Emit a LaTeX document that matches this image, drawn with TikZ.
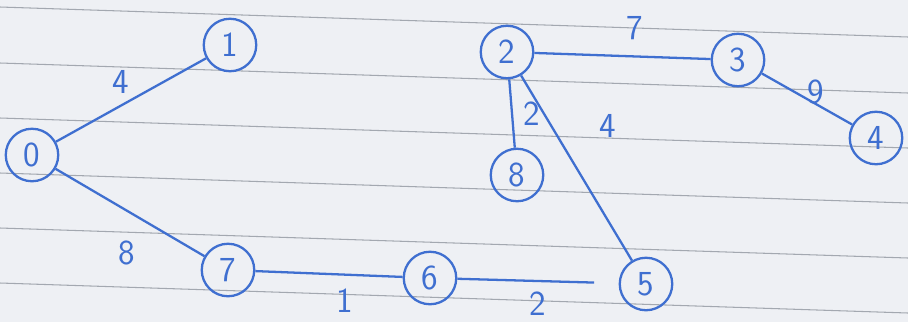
\documentclass[tikz,border=0pt]{standalone}
\usepackage{tikz}
\usetikzlibrary{positioning, calc}
\definecolor{inkblue}{HTML}{3F6FD0}
\definecolor{paper}{HTML}{EEF0F4}
\definecolor{ruling}{HTML}{A3A8B0}

\begin{document}
\begin{tikzpicture}[
  x=0.02cm, y=-0.02cm,
  vert/.style={circle, draw=inkblue, line width=1.3pt, minimum size=1.05cm,
               inner sep=0pt, text=inkblue, font=\fontsize{20}{22}\sffamily},
  edge/.style={inkblue, line width=1.3pt},
  lbl/.style={text=inkblue, font=\fontsize{20}{22}\sffamily, inner sep=0pt},
]
  %% ── Paper and ruled lines ───────────────────────────────────────────────
  \fill[paper] (0,0) rectangle (908,322);
  \useasboundingbox (0,0) rectangle (908,322);
  \foreach \y in {7,63,118,173,228,283}
    \draw[ruling, line width=0.6pt] (0,\y) -- (908,\y+30);

  %% ── Left component ──────────────────────────────────────────────────────
  \node[vert] (n0) at (32,155)  {0};
  \node[vert] (n1) at (230,45)  {1};
  \node[vert] (n7) at (228,270) {7};
  \node[vert] (n6) at (430,278) {6};
  \node[vert] (n5) at (646,284) {5};

  %% ── Right component ─────────────────────────────────────────────────────
  \node[vert] (n2) at (507,52)  {2};
  \node[vert] (n3) at (738,60)  {3};
  \node[vert] (n4) at (876,138) {4};
  \node[vert] (n8) at (517,175) {8};

  %% ── Weighted edges ──────────────────────────────────────────────────────
  \draw[edge] (n0) -- node[lbl, xshift=-6pt, yshift=10pt]{4} (n1);
  \draw[edge] (n0) -- node[lbl, xshift=-2pt, yshift=-23pt]{8} (n7);
  \draw[edge] (n7) -- node[lbl, xshift=9pt, yshift=-15pt]{1} (n6);
  \draw[edge, shorten >=14pt] (n6) -- node[lbl, yshift=-13pt]{2} (n5);
  \draw[edge] (n2) -- node[lbl, xshift=7pt, yshift=16pt]{7} (n3);
  \draw[edge] (n3) -- node[lbl, xshift=5pt, yshift=4pt]{9} (n4);
  \draw[edge] (n2) -- node[lbl, xshift=11pt]{2} (n8);
  \draw[edge] (n2) -- node[lbl, xshift=18pt, yshift=24pt]{4} (n5);

\end{tikzpicture}
\end{document}
